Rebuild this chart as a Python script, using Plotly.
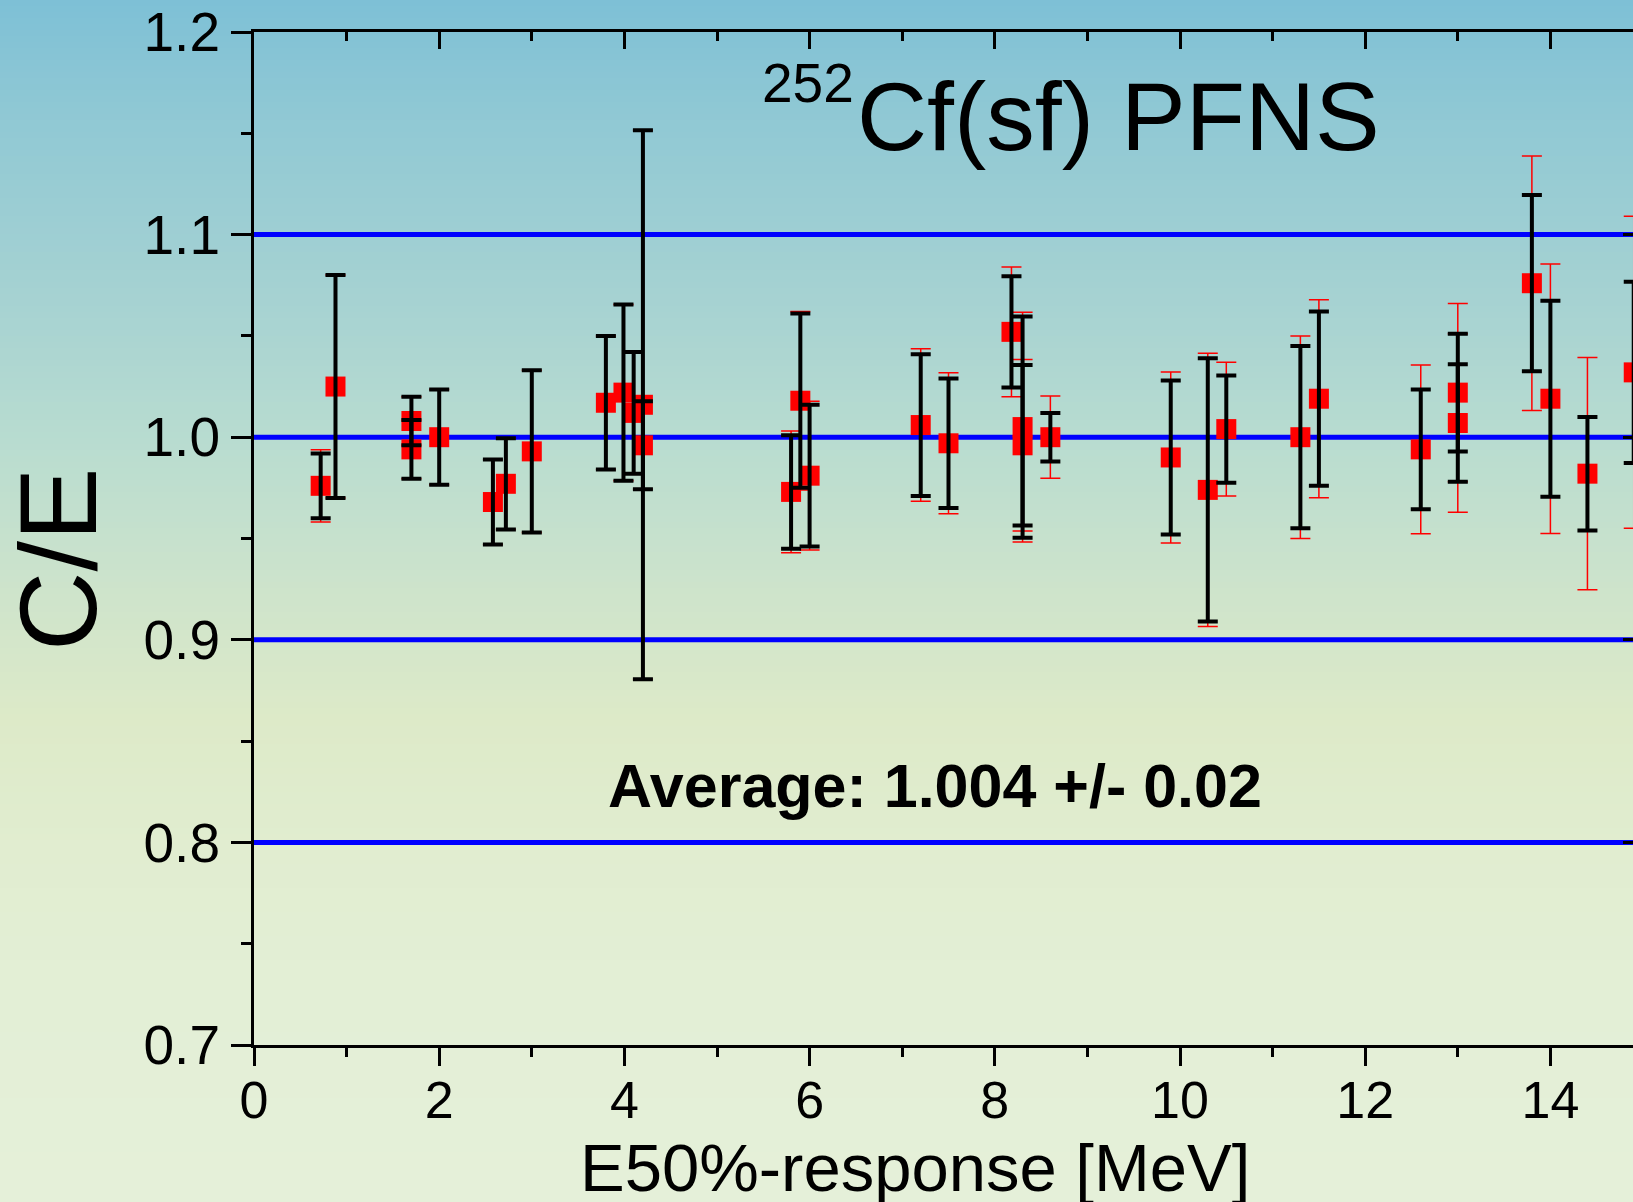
import numpy as np
import plotly.graph_objects as go

# ---------------- data ----------------
energy = [0.72, 0.88, 1.7, 1.7, 2.0, 2.58, 2.72, 3.0, 3.8, 3.99, 4.1, 4.2, 4.2,
          5.8, 5.9, 6.0, 7.2, 7.5, 8.18, 8.3, 8.3, 8.6, 9.9, 10.3, 10.5,
          11.3, 11.5, 12.6, 13.0, 13.0, 13.8, 14.0, 14.4, 14.9]
ce_ratio = [0.976, 1.025, 1.008, 0.994, 1.000, 0.968, 0.977, 0.993, 1.017, 1.022, 1.012, 1.016, 0.996,
            0.973, 1.018, 0.981, 1.006, 0.997, 1.052, 1.005, 0.996, 1.000, 0.990, 0.974, 1.004,
            1.000, 1.019, 0.994, 1.022, 1.007, 1.076, 1.019, 0.982, 1.032]
err_black = [0.016, 0.055, 0.012, 0.0145, 0.0235, 0.021, 0.0225, 0.040, 0.033, 0.0435, 0.030, 0.1355, 0.0217,
             0.028, 0.043, 0.035, 0.035, 0.032, 0.0275, 0.0546, 0.0396, 0.012, 0.038, 0.065, 0.0265,
             0.045, 0.043, 0.0296, 0.029, 0.029, 0.0435, 0.0484, 0.028, 0.0447]
err_red = [0.0178, 0.055, 0.012, 0.0145, 0.0235, 0.021, 0.0225, 0.040, 0.033, 0.0435, 0.030, 0.1355, 0.0217,
           0.030, 0.044, 0.0367, 0.0376, 0.0348, 0.032, 0.0567, 0.0423, 0.0203, 0.0422, 0.0674, 0.033,
           0.050, 0.0489, 0.0416, 0.044, 0.044, 0.0628, 0.0665, 0.0573, 0.077]
ref_levels = [0.8, 0.9, 1.0, 1.1]
x_ticks = [0, 2, 4, 6, 8, 10, 12, 14]
y_ticks = [0.7, 0.8, 0.9, 1.0, 1.1, 1.2]

# ---------------- layout geometry ----------------
VIEW_W = 1633           # browser window width; the frame's right edge lies just beyond it
W, H = 1643, 1202
ML, MR, MT, MB = 254, 0, 32, 157
X_RANGE = [0, 15]
Y_RANGE = [0.7, 1.2]
PW, PH = W - ML - MR, H - MT - MB
FONT = "Liberation Sans, Arial, sans-serif"


def pxx(px):
    return (px - ML) / PW


def pxy(py):
    return (H - MB - py) / PH


# background gradient (blue top -> pale green bottom)
stop_py = [0, 110, 300, 440, 600, 720, 850, 1000, 1202]
stop_rgb = [(126, 192, 214), (143, 200, 212), (166, 210, 210), (184, 220, 208),
            (207, 228, 203), (221, 234, 200), (225, 237, 208), (227, 239, 214), (229, 240, 217)]
shapes = []
step = 6
for top in range(0, H, step):
    mid = top + step / 2
    r, g, b = (int(round(np.interp(mid, stop_py, [c[i] for c in stop_rgb]))) for i in range(3))
    shapes.append(dict(type="rect", xref="paper", yref="paper", layer="below",
                       x0=pxx(-5), x1=pxx(W + 5), y0=pxy(top + step + 1), y1=pxy(top),
                       fillcolor=f"rgb({r},{g},{b})", line=dict(width=0)))
for lv in ref_levels:
    shapes.append(dict(type="line", xref="paper", yref="y", layer="below",
                       x0=0, x1=1, y0=lv, y1=lv, line=dict(color="#0000ff", width=5)))

fig = go.Figure()
# red squares with thin red (total) error bars
fig.add_trace(go.Scatter(
    x=energy, y=ce_ratio, mode="markers",
    marker=dict(symbol="square", size=20, color="#ff0000", line=dict(width=0)),
    error_y=dict(type="data", array=err_red, symmetric=True, color="#ff0000",
                 thickness=1.5, width=10),
    showlegend=False, hoverinfo="skip"))
# thick black error bars drawn on top (overlaid axes that carry the inner ticks)
fig.add_trace(go.Scatter(
    x=energy, y=ce_ratio, mode="markers", xaxis="x2", yaxis="y2",
    marker=dict(size=2, color="rgba(0,0,0,0)"),
    error_y=dict(type="data", array=err_black, symmetric=True, color="#000000",
                 thickness=4, width=10),
    showlegend=False, hoverinfo="skip"))

axis_common = dict(showgrid=False, zeroline=False, showline=True, linecolor="black",
                   linewidth=3, tickcolor="black", tickwidth=3)

fig.update_layout(
    width=W, height=H,
    margin=dict(l=ML, r=MR, t=MT, b=MB, pad=0),
    paper_bgcolor="rgb(229,240,217)", plot_bgcolor="rgba(0,0,0,0)",
    font=dict(family=FONT, color="black"),
    shapes=shapes,
    xaxis=dict(range=X_RANGE, tickvals=x_ticks, ticks="outside", ticklen=18,
               ticklabelstandoff=-10,
               tickfont=dict(size=52, family=FONT, color="black"),
               minor=dict(dtick=1, tick0=0, ticks="outside", ticklen=9, tickwidth=3,
                          tickcolor="black", showgrid=False),
               **axis_common),
    yaxis=dict(range=Y_RANGE, tickvals=y_ticks, tickformat=".1f", ticks="outside", ticklen=20,
               tickfont=dict(size=55, family=FONT, color="black"),
               minor=dict(dtick=0.05, tick0=0.7, ticks="outside", ticklen=10, tickwidth=3,
                          tickcolor="black", showgrid=False),
               **axis_common),
    xaxis2=dict(range=X_RANGE, overlaying="x", side="top", anchor="y2", tickvals=x_ticks,
                ticks="inside", ticklen=17, showticklabels=False,
                minor=dict(dtick=1, tick0=0, ticks="inside", ticklen=9, tickwidth=3,
                           tickcolor="black", showgrid=False),
                **axis_common),
    yaxis2=dict(range=Y_RANGE, overlaying="y", side="right", anchor="x2", tickvals=y_ticks,
                ticks="inside", ticklen=20, showticklabels=False,
                minor=dict(dtick=0.05, tick0=0.7, ticks="inside", ticklen=10, tickwidth=3,
                           tickcolor="black", showgrid=False),
                **axis_common),
    annotations=[
        dict(text="Cf(sf) PFNS", xref="paper", yref="paper", x=pxx(855), y=pxy(116.7),
             xanchor="left", yanchor="middle", showarrow=False,
             font=dict(size=97, family=FONT, color="black")),
        dict(text="252", xref="paper", yref="paper", x=pxx(760), y=pxy(83.5),
             xanchor="left", yanchor="middle", showarrow=False,
             font=dict(size=55, family=FONT, color="black")),
        dict(text="<b>Average: 1.004 +/- 0.02</b>", xref="paper", yref="paper",
             x=pxx(935), y=pxy(786), xanchor="center", yanchor="middle", showarrow=False,
             font=dict(size=61, family=FONT, color="black")),
        dict(text="E50%-response [MeV]", xref="paper", yref="paper",
             x=pxx(914.5), y=pxy(1167), xanchor="center", yanchor="middle", showarrow=False,
             font=dict(size=67, family=FONT, color="black")),
        dict(text="C/E", xref="paper", yref="paper", textangle=-90,
             x=pxx(57), y=pxy(559), xanchor="center", yanchor="middle", showarrow=False,
             font=dict(size=110, family=FONT, color="black")),
    ],
)

# remove the default page margin and let the window crop the frame's right edge
post = ("document.body.style.margin='0';"
        "document.documentElement.style.overflow='hidden';"
        "document.body.style.overflow='hidden';")
fig.write_html("out.html", post_script=post, config={"displayModeBar": False})
